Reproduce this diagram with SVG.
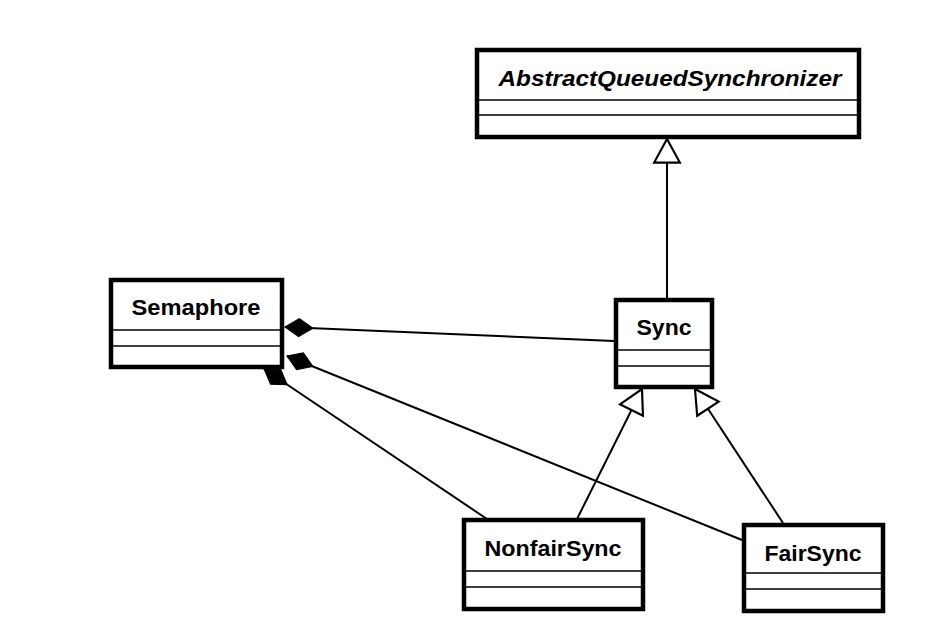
<svg xmlns="http://www.w3.org/2000/svg" width="939" height="620" viewBox="0 0 939 620">
<style>
.box{fill:#fff;stroke:#000;stroke-width:4.5}
.sep{stroke:#000;stroke-width:1.6}
.name{font-family:"Liberation Sans",Arial,sans-serif;font-weight:bold;font-size:22px;fill:#000;text-anchor:middle}
.conn{stroke:#000;stroke-width:2;fill:none}
</style>
<defs>
<marker id="gen" markerUnits="userSpaceOnUse" markerWidth="30" markerHeight="30" refX="0" refY="0" viewBox="-2 -14 28 28" orient="auto" overflow="visible">
<path d="M0,0 L22,-12 L22,12 Z" fill="#fff" stroke="#000" stroke-width="2" stroke-linejoin="miter"/>
</marker>
<marker id="comp" markerUnits="userSpaceOnUse" markerWidth="32" markerHeight="22" refX="0" refY="0" viewBox="-2 -11 32 22" orient="auto" overflow="visible">
<path d="M0,0 L14,-9 L28,0 L14,9 Z" fill="#000" stroke="#000" stroke-width="1"/>
</marker>
</defs>
<rect width="939" height="620" fill="#fff"/>
<g id="connectors">
<line class="conn" x1="667" y1="139" x2="667" y2="298" marker-start="url(#gen)"/>
<line class="conn" x1="642" y1="389" x2="577" y2="519" marker-start="url(#gen)"/>
<line class="conn" x1="695" y1="389" x2="783" y2="523" marker-start="url(#gen)"/>
<line class="conn" x1="285" y1="327" x2="614" y2="341" marker-start="url(#comp)"/>
<line class="conn" x1="287" y1="356" x2="742" y2="540" marker-start="url(#comp)"/>
<line class="conn" x1="264" y1="369" x2="487" y2="519" marker-start="url(#comp)"/>
</g>
<g id="AbstractQueuedSynchronizer">
<rect class="box" x="477" y="50" width="382" height="87"/>
<line class="sep" x1="479" y1="100" x2="857" y2="100"/>
<line class="sep" x1="479" y1="115" x2="857" y2="115"/>
<text class="name" x="670" y="86" font-style="italic" textLength="343" lengthAdjust="spacingAndGlyphs">AbstractQueuedSynchronizer</text>
</g>
<g id="Semaphore">
<rect class="box" x="111" y="280" width="171" height="87"/>
<line class="sep" x1="113" y1="330" x2="280" y2="330"/>
<line class="sep" x1="113" y1="346" x2="280" y2="346"/>
<text class="name" x="196" y="315" textLength="129" lengthAdjust="spacingAndGlyphs">Semaphore</text>
</g>
<g id="Sync">
<rect class="box" x="616" y="300" width="96" height="87"/>
<line class="sep" x1="618" y1="350" x2="710" y2="350"/>
<line class="sep" x1="618" y1="366" x2="710" y2="366"/>
<text class="name" x="664" y="335" textLength="55" lengthAdjust="spacingAndGlyphs">Sync</text>
</g>
<g id="NonfairSync">
<rect class="box" x="464" y="520" width="179" height="89"/>
<line class="sep" x1="466" y1="571" x2="641" y2="571"/>
<line class="sep" x1="466" y1="587" x2="641" y2="587"/>
<text class="name" x="553" y="556" textLength="137" lengthAdjust="spacingAndGlyphs">NonfairSync</text>
</g>
<g id="FairSync">
<rect class="box" x="744" y="525" width="139" height="86"/>
<line class="sep" x1="746" y1="573" x2="881" y2="573"/>
<line class="sep" x1="746" y1="589" x2="881" y2="589"/>
<text class="name" x="813" y="561" textLength="97" lengthAdjust="spacingAndGlyphs">FairSync</text>
</g>
</svg>
